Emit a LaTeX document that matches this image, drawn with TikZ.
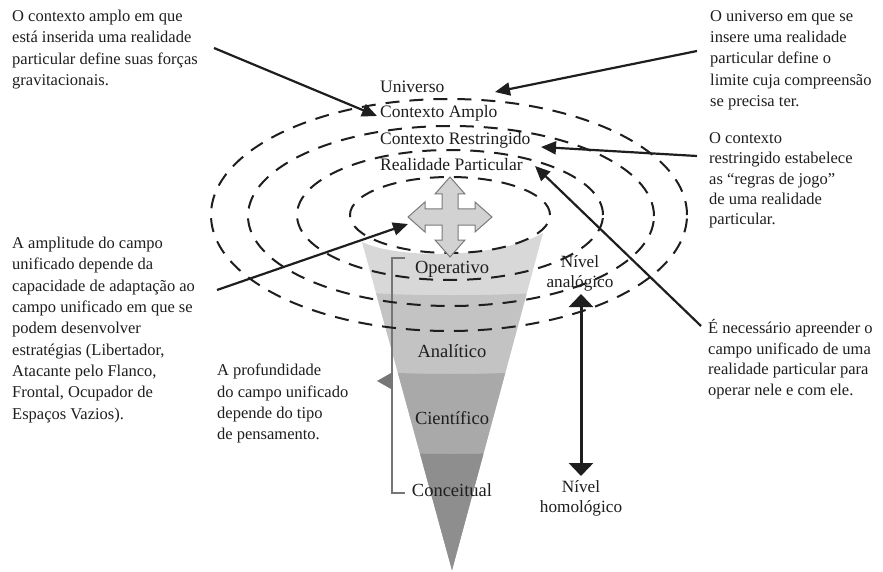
\documentclass[tikz,border=0pt]{standalone}
\usepackage{fontspec}
\setmainfont{Liberation Serif}
\usetikzlibrary{arrows.meta}
\definecolor{txt}{HTML}{1E1E1E}
\definecolor{bandA}{HTML}{D8D8D8}
\definecolor{bandB}{HTML}{C3C3C3}
\definecolor{bandC}{HTML}{A9A9A9}
\definecolor{bandD}{HTML}{8E8E8E}
\definecolor{crossfill}{HTML}{D2D2D2}
\definecolor{crossline}{HTML}{7A7A7A}
\definecolor{brack}{HTML}{767676}
\begin{document}
\begin{tikzpicture}[x=1pt,y=-1pt,
  sidetext/.style={font=\fontsize{16.5}{21.3}\selectfont, align=left, anchor=north west, inner sep=0pt, text=txt},
  centerlabel/.style={font=\fontsize{17.5}{20}\selectfont, anchor=base west, inner sep=0pt, text=txt},
  conelabel/.style={font=\fontsize{18.5}{22}\selectfont, anchor=base, inner sep=0pt, text=txt},
  levellabel/.style={font=\fontsize{17.2}{20}\selectfont, align=center, inner sep=0pt, text=txt},
  ring/.style={draw=txt, line width=2pt, dash pattern=on 14pt off 10pt},
  arr/.style={draw=txt, line width=2.2pt, -{Triangle[length=15pt,width=13pt]}},
  dblarr/.style={draw=txt, line width=3pt, {Triangle[length=13pt,width=24pt]}-{Triangle[length=13pt,width=24pt]}}
]
\useasboundingbox (0,0) rectangle (883,572);
\fill[white] (0,0) rectangle (883,572);

% cone with bands
\begin{scope}
  \clip (362,242) .. controls (400,260) and (500,258) .. (543,233) -- (452,570) -- cycle;
  \fill[bandA] (330,200) rectangle (580,600);
  \fill[bandB] (330,290) .. controls (400,297) and (500,297) .. (580,290) -- (580,600) -- (330,600) -- cycle;
  \fill[bandC] (330,368) .. controls (400,376) and (500,376) .. (580,368) -- (580,600) -- (330,600) -- cycle;
  \fill[bandD] (330,448) .. controls (400,456) and (500,456) .. (580,448) -- (580,600) -- (330,600) -- cycle;
\end{scope}

% bracket
\draw[brack, line width=1.5pt] (405,258) -- (392,258) -- (392,493) -- (405,493);
\fill[brack] (391,373) -- (377,381) -- (391,389) -- cycle;

% dashed rings
\draw[ring] (450,215) ellipse [x radius=100pt, y radius=38pt];
\draw[ring] (450,215) ellipse [x radius=153pt, y radius=65pt];
\draw[ring] (451,216) ellipse [x radius=203pt, y radius=90pt];
\draw[ring] (449,215) ellipse [x radius=238pt, y radius=116pt];

% four-way arrow
\filldraw[fill=crossfill, draw=crossline, line width=1pt]
  (450,177) -- (465,194) -- (458,194) -- (458,209) -- (475,209) -- (475,202) -- (492,217)
  -- (475,232) -- (475,225) -- (458,225) -- (458,240) -- (465,240) -- (450,257)
  -- (435,240) -- (442,240) -- (442,225) -- (425,225) -- (425,232) -- (408,217)
  -- (425,202) -- (425,209) -- (442,209) -- (442,194) -- (435,194) -- cycle;

% center labels
\node[centerlabel] (univ) at (380,93) {Universo};
\node[centerlabel] (camp) at (380,118) {Contexto Amplo};
\node[centerlabel] (crest) at (380,144.5) {Contexto Restringido};
\node[centerlabel] (real) at (380,170.5) {Realidade Particular};

% cone labels
\node[conelabel] (oper) at (452,273) {Operativo};
\node[conelabel] (anal) at (452,357) {Analítico};
\node[conelabel] (cien) at (452,424) {Científico};
\node[conelabel] (conc) at (452,496) {Conceitual};

% level labels and arrow
\node[levellabel] (nanal) at (580,273) {Nível\\analógico};
\node[levellabel] (nhomo) at (581,498) {Nível\\homológico};
\coordinate (dtop) at (581,294);
\coordinate (dbot) at (581,476);
\draw[dblarr] (dtop) -- (dbot);

% side texts
\node[sidetext] (tl) at (12,10) {O contexto amplo em que\\está inserida uma realidade\\particular define suas forças\\gravitacionais.};
\node[sidetext] (tr) at (710,10) {O universo em que se\\insere uma realidade\\particular define o\\limite cuja compreensão\\se precisa ter.};
\node[sidetext, font=\fontsize{16.5}{20.2}\selectfont] (rr) at (709,132.5) {O contexto\\restringido estabelece\\as “regras de jogo”\\de uma realidade\\particular.};
\node[sidetext, font=\fontsize{16.5}{20.7}\selectfont] (nec) at (708,319) {É necessário apreender o\\campo unificado de uma\\realidade particular para\\operar nele e com ele.};
\node[sidetext] (amp) at (12,237) {A amplitude do campo\\unificado depende da\\capacidade de adaptação ao\\campo unificado em que se\\podem desenvolver\\estratégias (Libertador,\\Atacante pelo Flanco,\\Frontal, Ocupador de\\Espaços Vazios).};
\node[sidetext] (prof) at (217,364) {A profundidade\\do campo unificado\\depende do tipo\\de pensamento.};

% pointer arrows
\coordinate (a1s) at (214,48);  \coordinate (a1e) at (377,116);
\coordinate (a2s) at (697,51);  \coordinate (a2e) at (495,92);
\coordinate (a3s) at (697,156); \coordinate (a3e) at (541,147);
\coordinate (a4s) at (701,326); \coordinate (a4e) at (535,166);
\coordinate (a5s) at (217,290); \coordinate (a5e) at (408,224);
\draw[arr] (a1s) -- (a1e);
\draw[arr] (a2s) -- (a2e);
\draw[arr] (a3s) -- (a3e);
\draw[arr] (a4s) -- (a4e);
\draw[arr] (a5s) -- (a5e);
\end{tikzpicture}
\end{document}
